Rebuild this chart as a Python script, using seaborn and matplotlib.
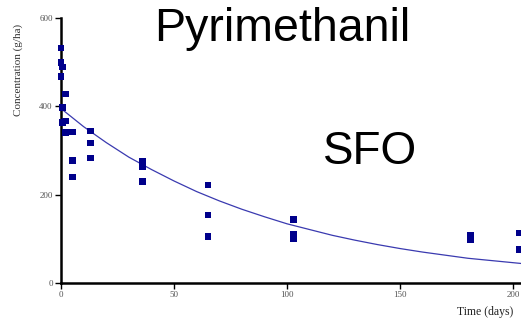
import matplotlib
matplotlib.use("Agg")
import matplotlib.pyplot as plt
import seaborn as sns
import pandas as pd

# observed data (days, g/ha)
obs_days = [0, 0, 0.5, 0, 2, 0.5, 0.5, 2, 2, 5, 13, 13, 13, 5, 5,
            36, 36, 36, 65, 65, 65, 103, 103, 103, 181, 181, 203, 203]
obs_conc = [532, 500, 489, 468, 428, 398, 364, 367, 340, 342, 344, 317, 283, 278, 240,
            276, 263, 229, 222, 154, 106, 143, 109, 100, 108, 98, 113, 75]

# SFO fitted curve
fit_days = [0, 10, 20, 30, 40, 50, 60, 70, 80, 90, 100, 110, 120, 130, 140,
            150, 160, 170, 180, 190, 200, 204]
fit_conc = [395, 354, 318, 285, 257, 231, 207, 186, 167, 150, 134, 121, 108, 97, 87,
            78, 70, 63, 56, 51, 46, 44]

x_ticks = [0, 50, 100, 150, 200]
y_ticks = [0, 200, 400, 600]

obs = pd.DataFrame({"day": obs_days, "conc": obs_conc})
fit = pd.DataFrame({"day": fit_days, "conc": fit_conc})

sns.set_style("ticks")
plt.rcParams["font.family"] = ["Liberation Sans", "DejaVu Sans"]

fig = plt.figure(figsize=(5.21, 3.23), dpi=100)
ax = fig.add_axes([61 / 521, 40 / 323, 460 / 521, 265 / 323])

sns.lineplot(data=fit, x="day", y="conc", ax=ax, color="#3a3ab0", linewidth=0.9)
sns.scatterplot(data=obs, x="day", y="conc", ax=ax, marker="s", s=24,
                color="#00008b", edgecolor="none", linewidth=0, clip_on=False, zorder=3)

ax.set_xlim(0, 203.5)
ax.set_ylim(0, 600)
ax.set_xticks(x_ticks)
ax.set_yticks(y_ticks)
ax.tick_params(axis="both", labelsize=6.5, labelcolor="#555555", length=4, width=1,
               color="black", pad=2)
for lab in ax.get_xticklabels() + ax.get_yticklabels():
    lab.set_family(["Liberation Serif", "DejaVu Serif"])
for side in ["left", "bottom"]:
    ax.spines[side].set_linewidth(1.8)
    ax.spines[side].set_color("black")
sns.despine(ax=ax)
ax.set_xlabel("")
ax.set_ylabel("")

fig.text(18 / 521, 1 - 70 / 323, "Concentration (g/ha)", rotation=90, ha="center", va="center",
         fontsize=8, color="#333333", family=["Liberation Serif", "DejaVu Serif"])
fig.text(485 / 521, 1 - 312 / 323, "Time (days)", ha="center", va="center",
         fontsize=8.5, color="#222222", family=["Liberation Serif", "DejaVu Serif"])

fig.text(282 / 521, 1 - 29 / 323, "Pyrimethanil", ha="center", va="center",
         fontsize=33.5, color="black")
fig.text(370 / 521, 1 - 152 / 323, "SFO", ha="center", va="center",
         fontsize=33, color="black")

fig.savefig("out.png", dpi=100)
